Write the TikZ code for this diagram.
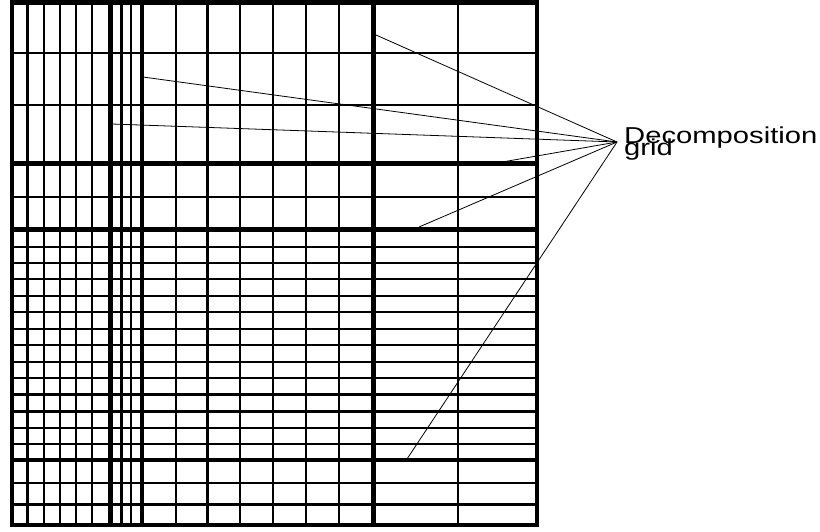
\documentclass[tikz,border=0pt]{standalone}
\usepackage{fontspec}
\newfontfamily\labelfont{Liberation Sans}
\newcommand\labelsize{\labelfont\fontsize{23}{12.5}\selectfont\lineskiplimit=-100pt\relax}
\usepackage{tikz}

\begin{document}
\begin{tikzpicture}[x=1pt, y=-1pt,
    thinline/.style={line width=2.2pt, black},
    thickline/.style={line width=4.3pt, black},
    leader/.style={line width=0.8pt, black},
    lbl/.style={anchor=base west, inner sep=0pt, align=left, font=\labelsize}]
  \useasboundingbox (0,0) rectangle (820,531);
  % Thin grid lines (vertical, then horizontal)
  \foreach \xpos in {27.5, 44, 60, 76, 92, 121.5, 131, 175.7, 207.5, 240, 273.3, 306, 339.3, 457.7} {
    \draw[thinline] (\xpos, 2.5) -- (\xpos, 525);
  }
  \foreach \ypos in {52.7, 105.3, 197, 247, 263, 279.3, 296, 312.3, 329, 345.3, 362, 377.7, 394.5, 411.5, 427.8, 444.2, 483, 504.5} {
    \draw[thinline] (11.7, \ypos) -- (537, \ypos);
  }
  % Block boundaries
  \foreach \xpos in {110.5, 142, 373.5} {
    \draw[thickline] (\xpos, 2.5) -- (\xpos, 525);
  }
  \foreach \ypos in {163.5, 229.5, 460} {
    \draw[thickline] (11.7, \ypos) -- (537, \ypos);
  }
  % Outer frame
  \draw[thickline] (11.7, 2.5) rectangle (537, 525);
  % Label (base anchor sits on the last line)
  \node[lbl] (decomp) at (624, 155.8) {\scalebox{1.27}[1]{Decomposition}\\\scalebox{1.27}[1]{grid}};
  % Leader lines from the label to the grid
  \coordinate (fan) at (617, 142);
  \coordinate (tipA) at (376, 35);
  \coordinate (tipB) at (143, 77);
  \coordinate (tipC) at (112, 124);
  \coordinate (tipD) at (504, 161.7);
  \coordinate (tipE) at (419, 227);
  \coordinate (tipF) at (407, 459);
  \foreach \tip in {tipA, tipB, tipC, tipD, tipE, tipF} {
    \draw[leader] (fan) -- (\tip);
  }
\end{tikzpicture}
\end{document}
